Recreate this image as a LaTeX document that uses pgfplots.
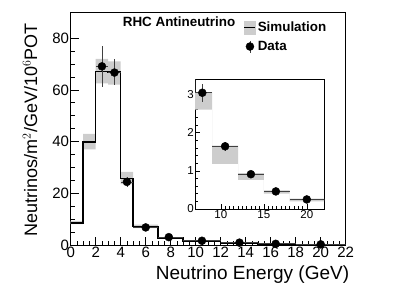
\documentclass[border=0pt]{standalone}
\usepackage{fontspec}
\setmainfont{Liberation Sans}
\usepackage{pgfplots}
\usepackage{pgfplotstable}
\pgfplotsset{compat=1.18}
\usepgfplotslibrary{fillbetween}
\definecolor{simgray}{RGB}{205,205,205}

\pgfplotstableread{
x lo hi
0 8.1 9.3
1 37.0 43.0
2 62.5 72.0
3 62.0 71.0
4 23.5 28.3
5 6.5 7.9
7 2.6 3.05
9 1.18 1.66
12 0.76 0.94
15 0.40 0.49
18 0.20 0.27
22 0.20 0.27
}\bands

\pgfplotstableread{
x y
0 8.6
1 39.9
2 67.2
3 66.9
4 25.8
5 7.2
7 2.8
9 1.42
12 0.85
15 0.45
18 0.24
22 0.24
}\hist

\pgfplotstableread{
x y exm exp eym eyp
2.5 69.1 0.5 0.5 8.0 7.7
3.5 66.7 0.5 0.5 5.0 5.4
4.5 24.4 0.5 0.5 2.0 2.0
6.0 6.8 1.0 1.0 0.7 0.7
7.85 3.04 0.85 1.15 0.23 0.22
10.5 1.64 1.5 1.5 0.12 0.12
13.5 0.91 1.5 1.5 0.06 0.06
16.4 0.46 1.4 1.6 0.04 0.04
20.0 0.25 2.0 2.0 0.03 0.03
}\data

\begin{document}
\begin{tikzpicture}
\begin{axis}[
  at={(0pt,0pt)}, anchor=south west,
  scale only axis, width=275pt, height=232.7pt,
  xmin=0, xmax=22, ymin=0, ymax=90,
  xtick={0,2,...,22}, ytick={0,20,40,60,80},
  minor x tick num=3, minor y tick num=3,
  tick align=inside, xtick pos=bottom, ytick pos=left,
  major tick length=8pt, minor tick length=4pt,
  axis line style={line width=0.8pt},
  every tick/.style={line width=0.6pt, black},
  /pgf/number format/assume math mode=true,
  ticklabel style={font=\fontsize{15}{18}\selectfont},
  yticklabel style={inner sep=1.5pt},
  xticklabel style={inner sep=1.5pt},
  xlabel={Neutrino Energy (GeV)},
  ylabel={Neutrinos/m$^{2}$/GeV/10$^{6}$POT},
  xlabel style={at={(axis description cs:1.0255,-0.150)}, anchor=base east, font=\fontsize{19}{22}\selectfont},
  ylabel style={at={(axis description cs:-0.1225,0.967)}, anchor=base east, font=\fontsize{18}{21}\selectfont},
  legend cell align=left,
  legend style={at={(axis description cs:0.63,0.968)}, anchor=north west, draw=none, fill=none,
    font=\bfseries\fontsize{13.4}{15}\selectfont, row sep=4pt, inner sep=0pt},
  error bars/error bar style={line width=0.7pt, black!75},
]
\addplot[name path=lo, const plot, draw=none, forget plot] table[x=x, y=lo] {\bands};
\addplot[name path=hi, const plot, draw=none, forget plot] table[x=x, y=hi] {\bands};
\addplot[simgray, forget plot] fill between[of=lo and hi];
\addplot[const plot, black, line width=1.5pt, forget plot] table[x=x, y=y] {\hist};
\addplot[only marks, mark=*, mark size=4pt, black, forget plot,
  error bars/.cd, x dir=both, x explicit, y dir=both, y explicit, error mark=none]
  table[x=x, y=y, x error minus=exm, x error plus=exp, y error minus=eym, y error plus=eyp] {\data};
\addlegendimage{legend image code/.code={\fill[simgray] (0pt,-6.3pt) rectangle (11pt,6.3pt); \draw[black, line width=0.6pt] (0pt,0pt)--(11pt,0pt);}}
\addlegendentry{Simulation}
\addlegendimage{legend image code/.code={\draw[black!75, line width=0.7pt] (5.5pt,-6pt)--(5.5pt,6pt); \fill[black] (5.5pt,0pt) circle (4pt);}}
\addlegendentry{Data}
\node[anchor=base, font=\bfseries\fontsize{13.4}{15}\selectfont] at (axis description cs:0.394,0.938) {RHC Antineutrino};
\end{axis}
\begin{axis}[
  at={(124.3pt,36pt)}, anchor=south west,
  scale only axis, width=129pt, height=130pt,
  xmin=7, xmax=22, ymin=0, ymax=3.4,
  xtick={10,15,20}, ytick={0,1,2,3},
  minor x tick num=9, minor y tick num=4,
  tick align=inside, xtick pos=bottom, ytick pos=left,
  major tick length=5pt, minor tick length=2.5pt,
  axis line style={line width=0.6pt},
  every tick/.style={line width=0.5pt, black},
  axis background/.style={fill=white},
  /pgf/number format/assume math mode=true,
  ticklabel style={font=\fontsize{11.5}{14}\selectfont},
  yticklabel style={inner sep=1pt},
  xticklabel style={inner sep=1.5pt},
  error bars/error bar style={line width=0.7pt, black!75},
]
\addplot[name path=lo2, const plot, draw=none] table[x=x, y=lo] {\bands};
\addplot[name path=hi2, const plot, draw=none] table[x=x, y=hi] {\bands};
\addplot[simgray] fill between[of=lo2 and hi2];
\addplot[only marks, mark=*, mark size=4pt, black,
  error bars/.cd, x dir=both, x explicit, y dir=both, y explicit, error mark=none]
  table[x=x, y=y, x error minus=exm, x error plus=exp, y error minus=eym, y error plus=eyp] {\data};
\end{axis}
\pgfresetboundingbox
\useasboundingbox (-70.7pt,-52pt) rectangle (336.3pt,245pt);
\end{tikzpicture}
\end{document}
